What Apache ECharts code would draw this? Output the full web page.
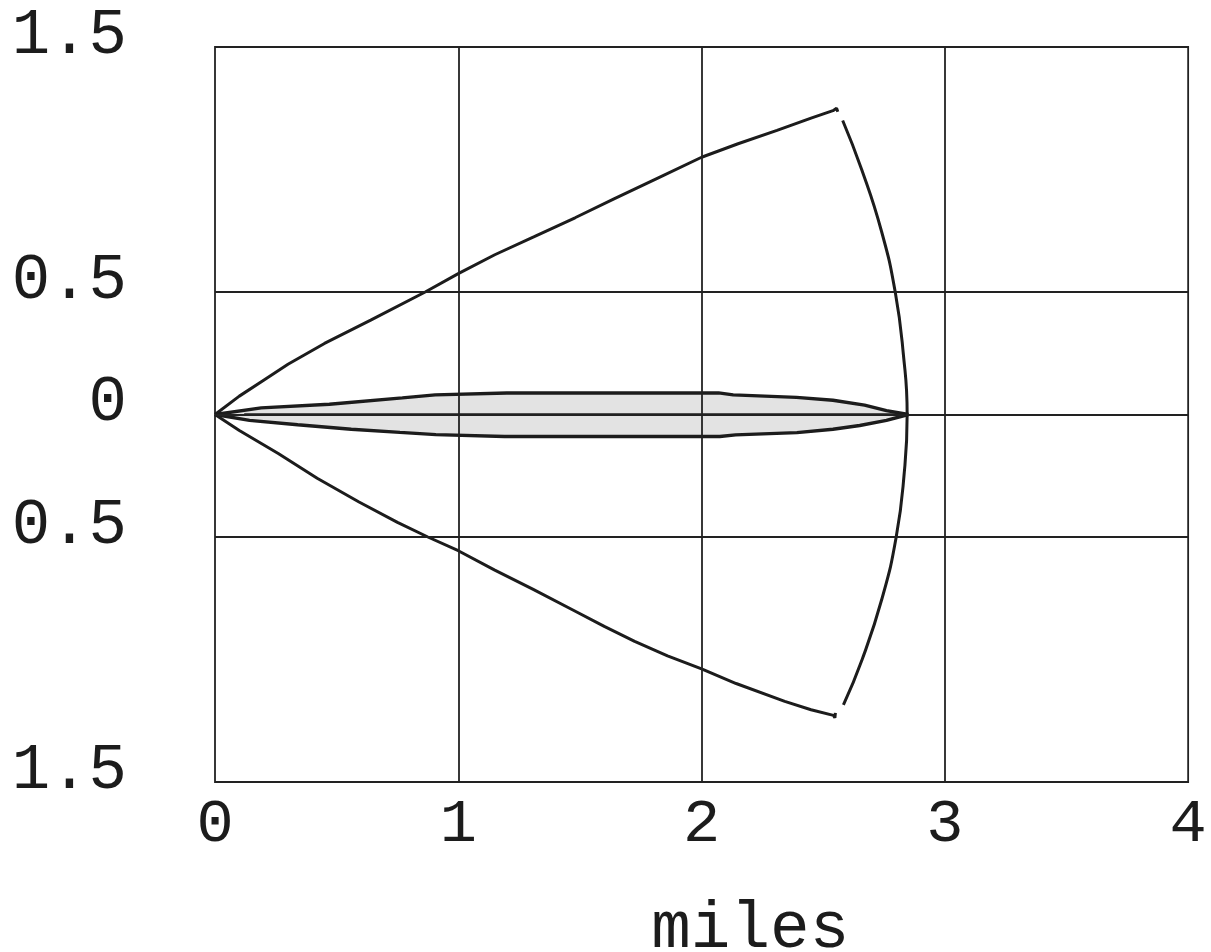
<!DOCTYPE html>
<html>
<head>
<meta charset="utf-8">
<script src="https://cdn.jsdelivr.net/npm/echarts@6/dist/echarts.min.js"></script>
<style>
  html, body { margin: 0; padding: 0; background: #fff; }
  #chart { width: 1211px; height: 952px; }
</style>
</head>
<body>
<div id="chart"></div>
<script>
// Axis ticks and labels
const xTickLabels = ['0', '1', '2', '3', '4'];
const yTickValues = [1.5, 0.5, 0, -0.5, -1.5];
const yTickText = ['1.5', '0.5', '0', '0.5', '1.5'];
const xGridValues = [1, 2, 3];

// Outer boundary, upper branch (miles)
const upperBranch = [
  [0, 0], [0.1, 0.075], [0.2, 0.14], [0.3, 0.205], [0.45, 0.29], [0.64, 0.385],
  [0.864, 0.5], [1.0, 0.575], [1.15, 0.652], [1.31, 0.725], [1.48, 0.803],
  [1.64, 0.88], [1.82, 0.965], [2.0, 1.05], [2.15, 1.105], [2.31, 1.16],
  [2.45, 1.21], [2.54, 1.24], [2.555, 1.25], [2.56, 1.236]
];

// Outer boundary, lower branch (miles)
const lowerBranch = [
  [0, 0], [0.1, -0.065], [0.26, -0.159], [0.42, -0.26], [0.592, -0.357],
  [0.75, -0.44], [0.875, -0.5], [1.0, -0.556], [1.15, -0.635], [1.308, -0.714],
  [1.475, -0.8], [1.6, -0.865], [1.725, -0.926], [1.86, -0.985], [2.0, -1.038],
  [2.142, -1.098], [2.342, -1.171], [2.45, -1.205], [2.542, -1.228],
  [2.548, -1.238], [2.55, -1.218]
];

// Range arc closing the boundary
const rangeArc = [
  [2.58, 1.2], [2.658, 1.0], [2.739, 0.75], [2.796, 0.5], [2.829, 0.25],
  [2.845, 0], [2.832, -0.25], [2.8, -0.5], [2.742, -0.75], [2.66, -1.0],
  [2.583, -1.185]
];

// Narrow shaded band along the centre line
const bandUpper = [
  [0, 0], [0.19, 0.027], [0.47, 0.042], [0.77, 0.068], [0.905, 0.08], [1.2, 0.088],
  [2.07, 0.088], [2.13, 0.08], [2.39, 0.07], [2.54, 0.058], [2.67, 0.038],
  [2.76, 0.016], [2.85, 0]
];
const bandLower = [
  [0, 0], [0.142, -0.024], [0.34, -0.042], [0.56, -0.06], [0.76, -0.073],
  [0.908, -0.082], [1.19, -0.09], [2.075, -0.09], [2.14, -0.083], [2.392, -0.074],
  [2.54, -0.06], [2.65, -0.045], [2.76, -0.024], [2.85, 0]
];
const bandCentre = [[0.12, 0], [2.85, 0]];

const ink = '#1c1c1c';
const monoFont = '"Liberation Mono", "DejaVu Sans Mono", monospace';

const chart = echarts.init(document.getElementById('chart'), null, { renderer: 'canvas' });

const curveStyle = { color: ink, width: 3 };
const bandLine = (data) => ({
  type: 'line', data, symbol: 'none', smooth: false, z: 3,
  lineStyle: { color: ink, width: 3.4 },
  areaStyle: { color: 'rgba(160,160,160,0.42)', origin: 0 }
});

// thin the strokes of the label glyphs with a white outline
const thinText = { textBorderColor: '#ffffff', textBorderWidth: 2.5 };

chart.setOption({
  backgroundColor: '#ffffff',
  animation: false,
  grid: {
    left: 215, right: 16, top: 47, bottom: 170,
    show: true, borderColor: '#222', borderWidth: 1.8, backgroundColor: 'transparent'
  },
  xAxis: {
    type: 'value', min: 0, max: 4, interval: 1,
    axisLine: { show: false },
    axisTick: { show: false },
    splitLine: { show: false },
    axisLabel: Object.assign({
      margin: 12, fontSize: 62, fontFamily: monoFont, color: ink,
      formatter: (v) => xTickLabels[Math.round(v)]
    }, thinText)
  },
  yAxis: {
    type: 'value', min: -1.5, max: 1.5, interval: 0.5,
    axisLine: { show: false },
    axisTick: { show: false },
    splitLine: { show: false },
    axisLabel: Object.assign({
      margin: 88, fontSize: 64, fontFamily: monoFont, color: ink,
      verticalAlign: 'middle',
      rich: {
        t: Object.assign({
          fontSize: 64, fontFamily: monoFont, color: ink, padding: [0, 0, 22, 0]
        }, thinText)
      },
      formatter: (v) => {
        const i = yTickValues.findIndex((t) => Math.abs(t - v) < 1e-9);
        return i >= 0 ? '{t|' + yTickText[i] + '}' : '';
      }
    }, thinText)
  },
  graphic: [{
    type: 'text', left: 650, top: 895,
    style: {
      text: 'miles', font: '66px ' + monoFont, fill: ink,
      stroke: '#ffffff', lineWidth: 2.5, strokeFirst: false
    }
  }],
  series: [
    {
      // grid lines
      type: 'line', data: [], silent: true, z: 1,
      markLine: {
        silent: true, symbol: 'none', label: { show: false },
        lineStyle: { color: '#222', width: 1.8, type: 'solid' },
        data: [
          ...yTickValues.map((v) => ({ yAxis: v })),
          ...xGridValues.map((v) => ({ xAxis: v }))
        ]
      }
    },
    bandLine(bandUpper),
    bandLine(bandLower),
    { type: 'line', data: bandCentre, symbol: 'none', lineStyle: { color: ink, width: 2.6 }, z: 4 },
    { type: 'line', data: upperBranch, symbol: 'none', lineStyle: curveStyle, z: 4 },
    { type: 'line', data: lowerBranch, symbol: 'none', lineStyle: curveStyle, z: 4 },
    { type: 'line', data: rangeArc, symbol: 'none', smooth: true, lineStyle: curveStyle, z: 4 }
  ]
});
</script>
</body>
</html>
